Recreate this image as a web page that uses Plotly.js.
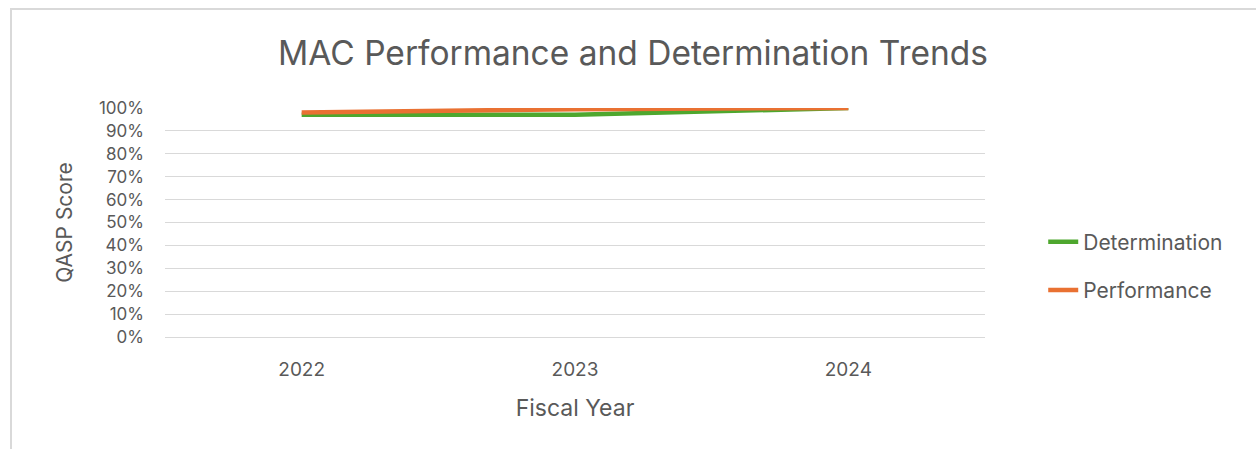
<!DOCTYPE html>
<html>
<head>
<meta charset="utf-8">
<script src="https://cdn.plot.ly/plotly-3.0.1.min.js"></script>
<style>
  html, body { margin: 0; padding: 0; background: #fff; }
  #wrap { position: relative; width: 1256px; height: 449px; overflow: hidden; }
  #chart { position: absolute; left: 0; top: 0; width: 1256px; height: 449px; }
  #frame { position: absolute; left: 10px; top: 8px; width: 1300px; height: 500px;
           border-left: 2px solid #d9d9d9; border-top: 2px solid #d9d9d9; pointer-events: none; }
</style>
</head>
<body>
<div id="wrap">
  <div id="chart"></div>
  <div id="frame"></div>
</div>
<script>
const years = ['2022', '2023', '2024'];
const determination = [0.97, 0.97, 1.00];
const performance = [0.98, 0.995, 1.00];
const seriesNames = ['Determination', 'Performance'];

const FONT = 'Inter, "Open Sans", "Liberation Sans", sans-serif';
const GREY = '#595959';

const traces = [
  {
    x: years, y: determination, name: seriesNames[0], type: 'scatter', mode: 'lines',
    line: { color: '#4EA72E', width: 4.5 }, legendgroup: 'a'
  },
  {
    x: years, y: performance, name: seriesNames[1], type: 'scatter', mode: 'lines',
    line: { color: '#E97132', width: 4.5 }, legendgroup: 'b'
  }
];

const layout = {
  width: 1256, height: 449,
  paper_bgcolor: 'rgba(0,0,0,0)', plot_bgcolor: '#fff',
  margin: { l: 165, r: 271, t: 108, b: 112 },
  font: { family: FONT, color: GREY },
  title: {
    text: 'MAC Performance and Determination Trends',
    font: { size: 33.5, color: GREY, family: FONT },
    x: 0.504, xref: 'container', xanchor: 'center',
    y: 0.882, yref: 'container', yanchor: 'middle'
  },
  xaxis: {
    type: 'category', range: [-0.5, 2.5],
    showgrid: false, zeroline: false,
    showline: true, linecolor: '#d9d9d9', linewidth: 1,
    ticks: '', tickfont: { size: 19, color: GREY },
    ticklabelstandoff: 15,
    title: { text: 'Fiscal Year', font: { size: 23, color: GREY }, standoff: 20 }
  },
  yaxis: {
    range: [0, 1], dtick: 0.1, tick0: 0, tickformat: '.0%',
    showgrid: true, gridcolor: '#d9d9d9', gridwidth: 1,
    zeroline: false, showline: false, ticks: '',
    tickfont: { size: 17, color: GREY },
    ticklabelstandoff: 20,
    title: { text: 'QASP Score', font: { size: 21, color: GREY }, standoff: 20 }
  },
  showlegend: true,
  legend: {
    x: 1.071, xanchor: 'left', y: 0.31, yanchor: 'middle',
    font: { size: 21, color: GREY },
    traceorder: 'grouped', tracegroupgap: 18,
    itemwidth: 30, bgcolor: 'rgba(0,0,0,0)'
  }
};

Plotly.newPlot('chart', traces, layout, { displayModeBar: false, staticPlot: true });
</script>
</body>
</html>
